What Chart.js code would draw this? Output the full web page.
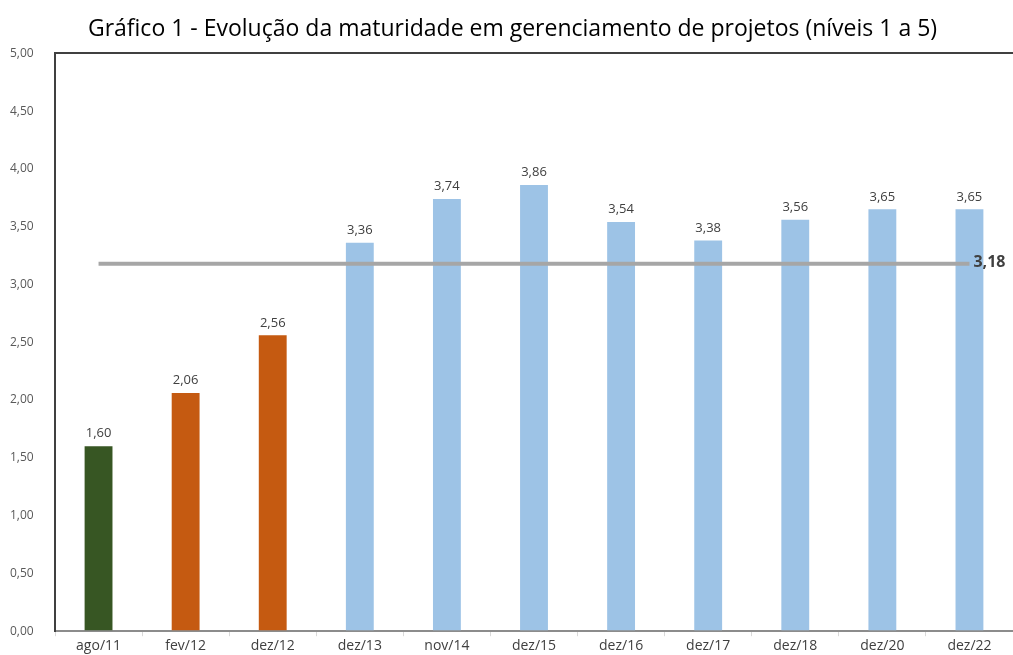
<!DOCTYPE html>
<html>
<head>
<meta charset="utf-8">
<script src="https://cdn.jsdelivr.net/npm/chart.js@4"></script>
<style>
  html, body { margin: 0; padding: 0; background: #fff; }
  #wrap { width: 1013px; height: 655px; }
</style>
</head>
<body>
<div id="wrap"><canvas id="maturidade"></canvas></div>
<script>
const categorias = ['ago/11', 'fev/12', 'dez/12', 'dez/13', 'nov/14', 'dez/15', 'dez/16', 'dez/17', 'dez/18', 'dez/20', 'dez/22'];
const niveis = [1.60, 2.06, 2.56, 3.36, 3.74, 3.86, 3.54, 3.38, 3.56, 3.65, 3.65];
const media = 3.18;
const coresBarras = ['#375623', '#C55A11', '#C55A11', '#9DC3E6', '#9DC3E6', '#9DC3E6', '#9DC3E6', '#9DC3E6', '#9DC3E6', '#9DC3E6', '#9DC3E6'];
const titulo = 'Gráfico 1 - Evolução da maturidade em gerenciamento de projetos (níveis 1 a 5)';

const fmt = v => v.toFixed(2).replace('.', ',');

// rótulos em cima das barras + valor da média na ponta da linha
const rotulos = {
    id: 'rotulos',
    afterDatasetsDraw(chart) {
        const ctx = chart.ctx;
        ctx.save();
        const barras = chart.getDatasetMeta(0);
        ctx.font = '13px "Open Sans"';
        ctx.fillStyle = '#404040';
        ctx.textAlign = 'center';
        ctx.textBaseline = 'bottom';
        barras.data.forEach((bar, i) => {
            ctx.fillText(fmt(niveis[i]), bar.x, bar.y - 6);
        });
        const linha = chart.getDatasetMeta(1);
        const ultimo = linha.data[linha.data.length - 1];
        ctx.font = 'bold 16px "Open Sans"';
        ctx.textAlign = 'left';
        ctx.textBaseline = 'middle';
        ctx.fillText(fmt(media), ultimo.x + 4, ultimo.y - 1);
        ctx.restore();
    }
};

new Chart(document.getElementById('maturidade').getContext('2d'), {
    data: {
        labels: categorias,
        datasets: [
            {
                type: 'bar',
                data: niveis,
                backgroundColor: coresBarras,
                barPercentage: 0.32,
                categoryPercentage: 1,
                order: 2
            },
            {
                type: 'line',
                data: categorias.map(() => media),
                borderColor: '#A6A6A6',
                borderWidth: 4,
                pointRadius: 0,
                order: 1
            }
        ]
    },
    options: {
        responsive: true,
        maintainAspectRatio: false,
        animation: false,
        layout: { padding: { left: 10, right: -2, top: 0, bottom: 0 } },
        plugins: {
            legend: { display: false },
            tooltip: { enabled: false },
            title: {
                display: true,
                text: titulo,
                color: '#000',
                font: { family: 'Open Sans', size: 23, weight: 'normal', lineHeight: 1.1 },
                padding: { top: 17, bottom: 11 }
            }
        },
        scales: {
            x: {
                grid: {
                    display: true,
                    offset: true,
                    drawOnChartArea: false,
                    tickLength: 5,
                    color: '#D9D9D9'
                },
                border: { color: '#8C8C8C', width: 2 },
                ticks: { color: '#404040', font: { family: 'Open Sans', size: 14 }, padding: 1 }
            },
            y: {
                min: 0,
                max: 5,
                afterFit: s => { s.width = 45; },
                ticks: {
                    stepSize: 0.5,
                    callback: v => fmt(v),
                    color: '#595959',
                    font: { family: 'Open Sans', size: 12 },
                    crossAlign: 'far'
                },
                grid: {
                    drawTicks: false,
                    color: c => c.tick.value === 5 ? '#404040' : 'rgba(0,0,0,0)',
                    lineWidth: 2
                },
                border: { color: '#404040', width: 2 }
            }
        }
    },
    plugins: [rotulos]
});
</script>
</body>
</html>
